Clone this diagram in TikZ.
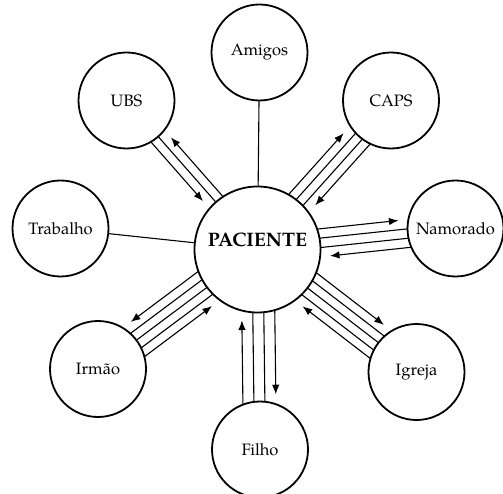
\documentclass[tikz,border=0pt]{standalone}
\usepackage{fontspec}
\setmainfont{TeX Gyre Pagella}
\usetikzlibrary{arrows.meta,calc}

\begin{document}
\begin{tikzpicture}[
  x=1pt, y=-1pt, >={Latex[length=9.5pt,width=7.5pt]},
  actor/.style={draw, circle, line width=1.8pt, minimum size=96pt, inner sep=0pt, font=\fontsize{16.5}{19}\selectfont},
  patient/.style={actor, minimum size=126pt, font=\fontsize{19.5}{23}\selectfont\bfseries},
  tie/.style={line width=1.1pt},
  tox/.style={tie, ->, shorten >=10pt},
  fromx/.style={tie, <-, shorten <=10pt},
]
\useasboundingbox (0,0) rectangle (503,494);

% circles
\node[patient] (pac) at (257.5,249.5) {\raisebox{2.5pt}[0pt][0pt]{PACIENTE}};
\node[actor] (amigos) at (259.5,52.5) {Amigos};
\node[actor] (ubs) at (126.5,100.5) {UBS};
\node[actor] (caps) at (391,100.5) {CAPS};
\node[actor] (trabalho) at (60.5,228.5) {Trabalho};
\node[actor] (namorado) at (455.5,228.5) {Namorado};
\node[actor] (irmao) at (98,369) {Irmão};
\node[actor] (igreja) at (416.5,372) {Igreja};
\node[actor] (filho) at (260,449.5) {Filho};

% single ties
\draw[tie] (pac) -- (amigos);
\draw[tie] (pac) -- (trabalho);

% bundles
\foreach \o/\k in {-9/tox, 0/tie, 9/fromx}
  \draw[\k] ($(pac)!{sqrt(63^2-(\o)^2)*1pt}!(ubs)!{\o*1pt}!90:(ubs)$)
         -- ($(ubs)!{sqrt(48^2-(\o)^2)*1pt}!(pac)!{\o*1pt}!-90:(pac)$);
\foreach \o/\k in {-13.5/fromx, -4.5/tie, 4.5/tie, 13.5/tox}
  \draw[\k] ($(pac)!{sqrt(63^2-(\o)^2)*1pt}!(caps)!{\o*1pt}!90:(caps)$)
         -- ($(caps)!{sqrt(48^2-(\o)^2)*1pt}!(pac)!{\o*1pt}!-90:(pac)$);
\foreach \o/\k in {-14/fromx, -4.7/tie, 4.7/tie, 14/tox}
  \draw[\k] ($(pac)!{sqrt(63^2-(\o)^2)*1pt}!(namorado)!{\o*1pt}!90:(namorado)$)
         -- ($(namorado)!{sqrt(48^2-(\o)^2)*1pt}!(pac)!{\o*1pt}!-90:(pac)$);
\foreach \o/\k in {-17.5/fromx, -8.75/tie, 0/tie, 8.75/tie, 17.5/tox}
  \draw[\k] ($(pac)!{sqrt(63^2-(\o)^2)*1pt}!(igreja)!{\o*1pt}!90:(igreja)$)
         -- ($(igreja)!{sqrt(48^2-(\o)^2)*1pt}!(pac)!{\o*1pt}!-90:(pac)$);
\foreach \o/\k in {-16.5/fromx, -5.5/tie, 5.5/tie, 16.5/tox}
  \draw[\k] ($(pac)!{sqrt(63^2-(\o)^2)*1pt}!(filho)!{\o*1pt}!90:(filho)$)
         -- ($(filho)!{sqrt(48^2-(\o)^2)*1pt}!(pac)!{\o*1pt}!-90:(pac)$);
\foreach \o/\k in {-18/tox, -9/tie, 0/tie, 9/tie, 18/fromx}
  \draw[\k] ($(pac)!{sqrt(63^2-(\o)^2)*1pt}!(irmao)!{\o*1pt}!90:(irmao)$)
         -- ($(irmao)!{sqrt(48^2-(\o)^2)*1pt}!(pac)!{\o*1pt}!-90:(pac)$);
\end{tikzpicture}
\end{document}
